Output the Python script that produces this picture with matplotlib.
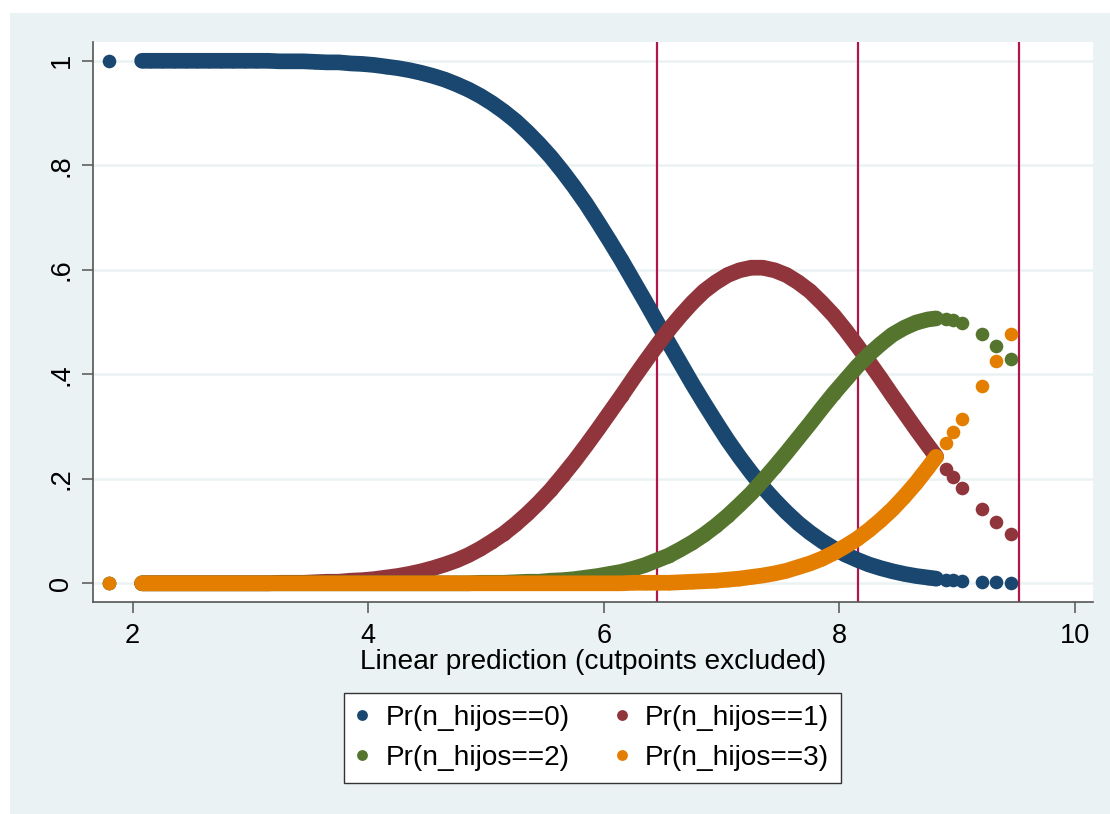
import matplotlib
matplotlib.use("Agg")
import matplotlib.pyplot as plt
from matplotlib.lines import Line2D
from matplotlib.patches import Rectangle
import numpy as np

# ---------------- data ----------------
linear_pred = [
    1.80, 2.08, 2.15, 2.25, 2.35, 2.45, 2.55, 2.65, 2.75, 2.85,
    2.95, 3.05, 3.15, 3.25, 3.35, 3.45, 3.55, 3.65, 3.75, 3.85,
    3.95, 4.05, 4.15, 4.25, 4.35, 4.45, 4.55, 4.65, 4.75, 4.85,
    4.95, 5.05, 5.15, 5.25, 5.35, 5.45, 5.55, 5.65, 5.75, 5.85,
    5.95, 6.05, 6.15, 6.25, 6.35, 6.45, 6.55, 6.65, 6.75, 6.85,
    6.95, 7.05, 7.15, 7.25, 7.35, 7.45, 7.55, 7.65, 7.75, 7.85,
    7.95, 8.05, 8.15, 8.25, 8.35, 8.45, 8.55, 8.65, 8.75, 8.82,
    8.90, 8.96, 9.04, 9.21, 9.33, 9.46,
]

pr_hijos_0 = [
    1.000, 1.000, 1.000, 1.000, 1.000, 1.000, 1.000, 1.000, 1.000, 1.000,
    1.000, 1.000, 1.000, 0.999, 0.999, 0.999, 0.998, 0.997, 0.997, 0.995,
    0.994, 0.992, 0.989, 0.986, 0.982, 0.977, 0.971, 0.964, 0.955, 0.945,
    0.933, 0.919, 0.903, 0.885, 0.864, 0.841, 0.816, 0.788, 0.758, 0.726,
    0.691, 0.655, 0.618, 0.579, 0.540, 0.500, 0.460, 0.421, 0.382, 0.345,
    0.309, 0.274, 0.242, 0.212, 0.184, 0.159, 0.136, 0.115, 0.097, 0.081,
    0.067, 0.055, 0.045, 0.036, 0.029, 0.023, 0.018, 0.014, 0.011, 0.009,
    0.007, 0.006, 0.005, 0.003, 0.002, 0.001,
]

pr_hijos_1 = [
    0.000, 0.000, 0.000, 0.000, 0.000, 0.000, 0.000, 0.000, 0.000, 0.000,
    0.000, 0.000, 0.000, 0.001, 0.001, 0.001, 0.002, 0.003, 0.003, 0.005,
    0.006, 0.008, 0.011, 0.014, 0.018, 0.023, 0.029, 0.036, 0.044, 0.054,
    0.066, 0.080, 0.095, 0.113, 0.133, 0.155, 0.179, 0.206, 0.234, 0.264,
    0.295, 0.327, 0.359, 0.392, 0.424, 0.455, 0.485, 0.512, 0.537, 0.559,
    0.576, 0.590, 0.599, 0.604, 0.604, 0.599, 0.590, 0.576, 0.559, 0.537,
    0.513, 0.485, 0.455, 0.424, 0.392, 0.359, 0.327, 0.295, 0.264, 0.243,
    0.219, 0.203, 0.183, 0.142, 0.118, 0.095,
]

pr_hijos_2 = [
    0.000, 0.000, 0.000, 0.000, 0.000, 0.000, 0.000, 0.000, 0.000, 0.000,
    0.000, 0.000, 0.000, 0.000, 0.000, 0.000, 0.000, 0.000, 0.000, 0.000,
    0.000, 0.000, 0.000, 0.000, 0.000, 0.000, 0.000, 0.000, 0.000, 0.000,
    0.001, 0.001, 0.001, 0.002, 0.003, 0.003, 0.005, 0.006, 0.008, 0.011,
    0.014, 0.018, 0.022, 0.028, 0.035, 0.044, 0.053, 0.065, 0.078, 0.093,
    0.110, 0.129, 0.150, 0.172, 0.197, 0.223, 0.250, 0.278, 0.306, 0.335,
    0.363, 0.389, 0.415, 0.438, 0.458, 0.476, 0.489, 0.499, 0.505, 0.507,
    0.506, 0.503, 0.498, 0.477, 0.455, 0.429,
]

pr_hijos_3 = [
    0.000, 0.000, 0.000, 0.000, 0.000, 0.000, 0.000, 0.000, 0.000, 0.000,
    0.000, 0.000, 0.000, 0.000, 0.000, 0.000, 0.000, 0.000, 0.000, 0.000,
    0.000, 0.000, 0.000, 0.000, 0.000, 0.000, 0.000, 0.000, 0.000, 0.000,
    0.000, 0.000, 0.000, 0.000, 0.000, 0.000, 0.000, 0.000, 0.000, 0.000,
    0.000, 0.000, 0.000, 0.001, 0.001, 0.001, 0.001, 0.002, 0.003, 0.004,
    0.005, 0.007, 0.009, 0.012, 0.015, 0.019, 0.024, 0.031, 0.038, 0.047,
    0.058, 0.071, 0.085, 0.102, 0.121, 0.142, 0.166, 0.192, 0.221, 0.242,
    0.268, 0.289, 0.314, 0.378, 0.426, 0.477,
]

series_labels = ["Pr(n_hijos==0)", "Pr(n_hijos==1)", "Pr(n_hijos==2)", "Pr(n_hijos==3)"]
cutpoints = [6.45, 8.16, 9.52]
x_ticks = [2, 4, 6, 8, 10]
y_ticks = [0, 0.2, 0.4, 0.6, 0.8, 1.0]
y_tick_labels = ["0", ".2", ".4", ".6", ".8", "1"]
x_label = "Linear prediction (cutpoints excluded)"

# ---------------- styling ----------------
plt.rcParams["font.family"] = ["Liberation Sans", "DejaVu Sans"]
colors = ["#1A476F", "#90353B", "#55752F", "#E37E00"]
bg = "#EAF2F3"
axis_col = "#555555"

W, H = 1110, 814
fig = plt.figure(figsize=(W / 100, H / 100), dpi=100)
fig.patch.set_facecolor("white")
fig.patches.append(Rectangle((10 / W, 0), 1 - 10 / W, 1 - 13 / H,
                             transform=fig.transFigure, facecolor=bg,
                             edgecolor="none", zorder=-10))

left, right, top, bottom = 92.5, 1093, 42, 601.7
ax = fig.add_axes([left / W, 1 - bottom / H, (right - left) / W, (bottom - top) / H])
ax.set_facecolor("white")

x = np.array(linear_pred)
dense = (x > 2.0) & (x < 8.85)
all_series = [pr_hijos_0, pr_hijos_1, pr_hijos_2, pr_hijos_3]

for c in cutpoints:
    ax.axvline(c, color="#B01649", lw=1.6, zorder=1.5)

lw_band = 11.3
marker_d = 9.8
for i, (ys, col) in enumerate(zip(all_series, colors)):
    y = np.array(ys)
    z = 2 + i
    ax.plot(x[dense], y[dense], color=col, lw=lw_band, solid_capstyle="round",
            solid_joinstyle="round", zorder=z)
    ax.scatter(x, y, s=marker_d ** 2, color=col, linewidths=0, zorder=z)

ax.set_xlim(1.659, 10.152)
ax.set_ylim(-0.0352, 1.036)
ax.set_xticks(x_ticks)
ax.set_xticklabels([str(t) for t in x_ticks])
ax.set_yticks(y_ticks)
ax.set_yticklabels(y_tick_labels)

ax.yaxis.grid(True, color=bg, lw=1.8, zorder=0)
ax.set_axisbelow(True)
for s in ["top", "right"]:
    ax.spines[s].set_visible(False)
for s in ["left", "bottom"]:
    ax.spines[s].set_color(axis_col)
    ax.spines[s].set_linewidth(1.2)

ax.tick_params(axis="both", direction="out", length=8, width=1.1, color=axis_col,
               labelsize=19.5, labelcolor="black")
ax.tick_params(axis="x", pad=7)
ax.tick_params(axis="y", pad=5)
for lab in ax.get_yticklabels():
    lab.set_rotation(90)
    lab.set_va("center")
    lab.set_ha("right")

ax.set_xlabel(x_label, fontsize=20.2, color="black")
ax.xaxis.set_label_coords(0.5, -0.084)
ax.xaxis.label.set_va("top")

handles = [Line2D([], [], marker="o", linestyle="none", markersize=7.8,
                  markerfacecolor=c, markeredgewidth=0, label=l)
           for c, l in zip(colors, series_labels)]
order = [0, 2, 1, 3]
leg = ax.legend([handles[i] for i in order], [series_labels[i] for i in order],
                ncol=2, loc="upper center", bbox_to_anchor=(0.5, -0.163),
                frameon=True, fancybox=False, framealpha=1, edgecolor="#333333",
                facecolor="white", fontsize=20.2, handlelength=0.45,
                handletextpad=0.62, columnspacing=1.6, labelspacing=0.5,
                borderpad=0.42, borderaxespad=0)
leg.get_frame().set_linewidth(1.0)

fig.savefig("out.png", dpi=100, facecolor=fig.get_facecolor())
